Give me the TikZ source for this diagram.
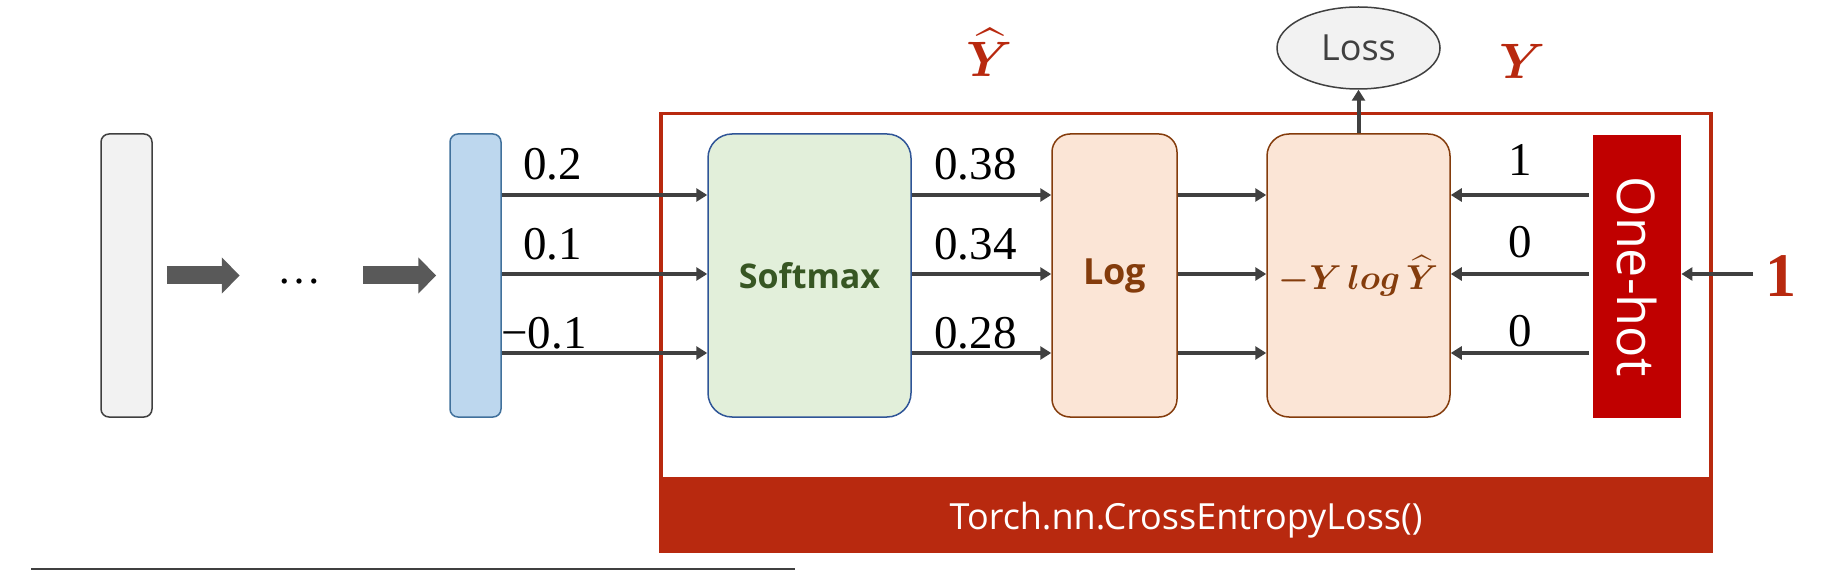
\documentclass[tikz,border=0pt]{standalone}
\usepackage{amsmath}
\usepackage{bm}
\usepackage{fontspec}
\setmainfont{Liberation Serif}
\newfontfamily\uisans{Open Sans}
\usetikzlibrary{arrows.meta,shapes.geometric}

\definecolor{arrowgray}{HTML}{404040}
\definecolor{fatgray}{HTML}{595959}
\definecolor{ceRed}{HTML}{B8290F}
\definecolor{hotRed}{HTML}{C00000}
\definecolor{barGray}{HTML}{F2F2F2}
\definecolor{barBlue}{HTML}{BDD7EE}
\definecolor{blueEdge}{HTML}{41719C}
\definecolor{softEdge}{HTML}{2F5597}
\definecolor{softFill}{HTML}{E2EFDA}
\definecolor{softText}{HTML}{375623}
\definecolor{logFill}{HTML}{FBE5D6}
\definecolor{logEdge}{HTML}{843C0C}

\begin{document}
\begin{tikzpicture}[x=0.5pt,y=-0.5pt]
  \tikzstyle{bar}=[rounded corners=4pt,minimum width=25.5pt,minimum height=141.5pt,line width=0.75pt,inner sep=0pt]
  \tikzstyle{block}=[rounded corners=12pt,minimum height=141.5pt,line width=0.75pt,inner sep=0pt]
  \tikzstyle{flow}=[-{Triangle[length=5.5pt,width=6.5pt]},line width=2pt,draw=arrowgray,fill=arrowgray]
  \tikzstyle{fat}=[-{Triangle[length=9pt,width=17.5pt]},line width=9pt,draw=fatgray,fill=fatgray]
  \tikzstyle{num}=[font=\fontsize{23.5}{28}\selectfont,anchor=base west,inner sep=0pt]
  \tikzstyle{sym}=[text=ceRed,font=\fontsize{30}{36}\selectfont,anchor=base,inner sep=0pt]

  \useasboundingbox (0,0) rectangle (1824,571);

  % layers before the loss
  \node[bar,draw=arrowgray,fill=barGray] (bar_in) at (126.5,275.5) {};
  \node[bar,draw=blueEdge,fill=barBlue] (bar_out) at (475.5,275.5) {};
  \node[font=\fontsize{22}{26}\selectfont,inner sep=0pt] (dots) at (299,282) {…};
  \draw[fat] ([xshift=7pt]bar_in.east) -- ([xshift=43.5pt]bar_in.east);
  \draw[fat] ([xshift=-43pt]bar_out.west) -- ([xshift=-6.5pt]bar_out.west);

  % CrossEntropyLoss frame
  \draw[draw=ceRed,line width=1.75pt] (661,113.5) rectangle (1711,551);
  \fill[ceRed] (660,477) rectangle (1712.5,552);
  \node[text=white,font=\uisans\fontsize{18}{22}\selectfont,anchor=base,inner sep=0pt] (torch) at (1186,529) {Torch.nn.CrossEntropyLoss()};

  \node[block,draw=softEdge,fill=softFill,minimum width=101.5pt,text=softText,font=\uisans\bfseries\fontsize{17}{21}\selectfont] (soft) at (809.5,275.5) {Softmax};
  \node[block,rounded corners=9pt,draw=logEdge,fill=logFill,minimum width=62.5pt,text=logEdge,font=\uisans\bfseries\fontsize{18}{22}\selectfont] (log) at (1114.5,275.5) {Log};
  \node[block,rounded corners=11pt,draw=logEdge,fill=logFill,minimum width=91.5pt,text=logEdge,font=\fontsize{18}{22}\selectfont] (ce) at (1358.5,275.5) {$\bm{-Y\,log\,\widehat{Y}}$};
  \node[fill=hotRed,minimum width=44pt,minimum height=141.5pt,inner sep=0pt] (hot) at (1637,276.5) {};
  \node[rotate=-90,text=white,font=\uisans\fontsize{26}{30}\selectfont,inner sep=0pt] (hot_txt) at (hot.center) {One-hot};

  \node[ellipse,draw=arrowgray,fill=barGray,line width=0.75pt,minimum width=81.5pt,minimum height=41pt,inner sep=0pt,text=arrowgray,font=\uisans\fontsize{18}{22}\selectfont] (loss) at (1358.5,48) {Loss};

  % labels
  \node[sym] (y_hat) at (990,77) {$\bm{\widehat{Y}}$};
  \node[sym] (y_true) at (1523,79) {$\bm{Y}$};
  \node[sym,font=\bfseries\fontsize{31}{36}\selectfont] (cls) at (1781,297) {1};

  \foreach \x/\y/\t [count=\i] in {523/180/0.2, 523/260/0.1, 501/349/{−0.1}}
    \node[num] (z_\i) at (\x,\y) {\t};
  \foreach \y/\t [count=\i] in {180/0.38, 260/0.34, 349/0.28}
    \node[num] (p_\i) at (934,\y) {\t};
  \foreach \y/\t [count=\i] in {176/1, 258/0, 347/0}
    \node[num] (t_\i) at (1508,\y) {\t};

  % connectors
  \foreach \y in {195,274,353} {
    \draw[flow] (bar_out.east |- 0,\y) -- (soft.west |- 0,\y);
    \draw[flow] (soft.east |- 0,\y) -- (log.west |- 0,\y);
    \draw[flow] (log.east |- 0,\y) -- (ce.west |- 0,\y);
    \draw[flow] ([xshift=-2pt]hot.west |- 0,\y) -- (ce.east |- 0,\y);
  }
  \coordinate (cls_in) at (1753,274);
  \draw[flow] (cls_in) -- (hot.east |- cls_in);
  \draw[flow] (ce.north) -- (loss.south);

  \draw[arrowgray,line width=0.6pt] (31,569) -- (795,569);
\end{tikzpicture}
\end{document}
